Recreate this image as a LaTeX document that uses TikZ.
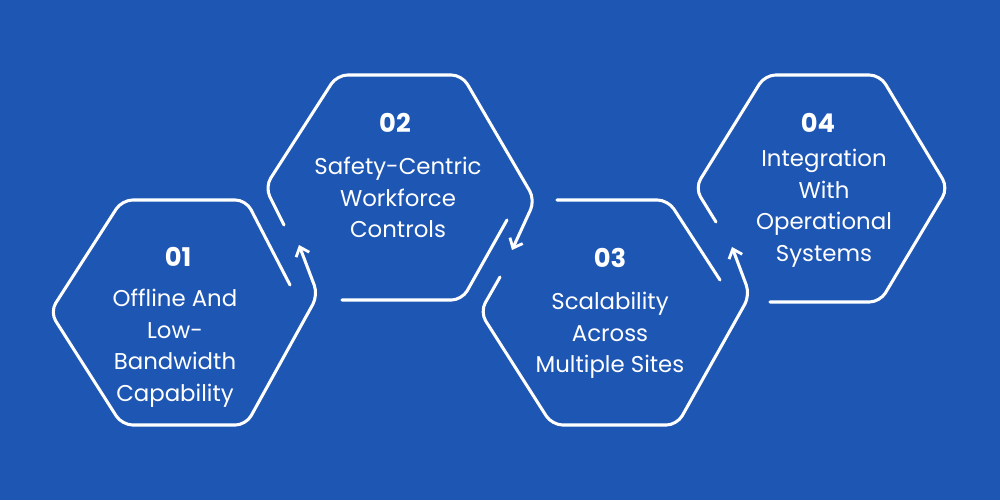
\documentclass[tikz,border=0pt]{standalone}
\usepackage{fontspec}
\setmainfont{Poppins}
\usetikzlibrary{arrows.meta}
\definecolor{bg}{HTML}{1E56B4}
\begin{document}
\begin{tikzpicture}[x=0.03cm,y=-0.03cm,
  hex/.style={draw=white,line width=2.6pt,rounded corners=9pt,line cap=round},
  arr/.style={-{Straight Barb[length=7pt,width=12pt,line width=2.4pt]}},
  num/.style={text=white,font=\fontsize{22}{26}\selectfont\bfseries},
  lbl/.style={text=white,font=\fontsize{19.5}{27}\selectfont,align=center}]
\fill[bg] (0,0) rectangle (1000,500);
\useasboundingbox (0,0) rectangle (1000,500);
% hex 1
\draw[hex,arr] (290,285) -- (246,200) -- (122,200) -- (50,312) -- (122,425) -- (246,425) -- (318,295) -- (299,245);
% hex 2
\draw[hex,arr] (284,225) -- (265,187) -- (337,75) -- (462,75) -- (535,200) -- (512,250);
\draw[hex] (342,300) -- (462,300) -- (507,220);
% hex 3
\draw[hex,arr] (500,277) -- (480,312) -- (552,425) -- (677,425) -- (750,295) -- (732,247);
\draw[hex] (557,200) -- (668,200) -- (720,280);
% hex 4
\draw[hex] (716,222) -- (695,188) -- (765,75) -- (880,75) -- (948,188) -- (880,302) -- (770,302);
\node[num] (n1) at (178,257) {01};
\node[lbl,anchor=north] (t1) at (175,285) {Offline And\\Low-\\Bandwidth\\Capability};
\node[num] (n2) at (395,123) {02};
\node[lbl,anchor=north] (t2) at (398,153) {Safety-Centric\\Workforce\\Controls};
\node[num] (n3) at (610,258) {03};
\node[lbl,anchor=north] (t3) at (610,288) {Scalability\\Across\\Multiple Sites};
\node[num] (n4) at (818,123) {04};
\node[lbl,anchor=north] (t4) at (824,145) {Integration\\With\\Operational\\Systems};
\end{tikzpicture}
\end{document}
